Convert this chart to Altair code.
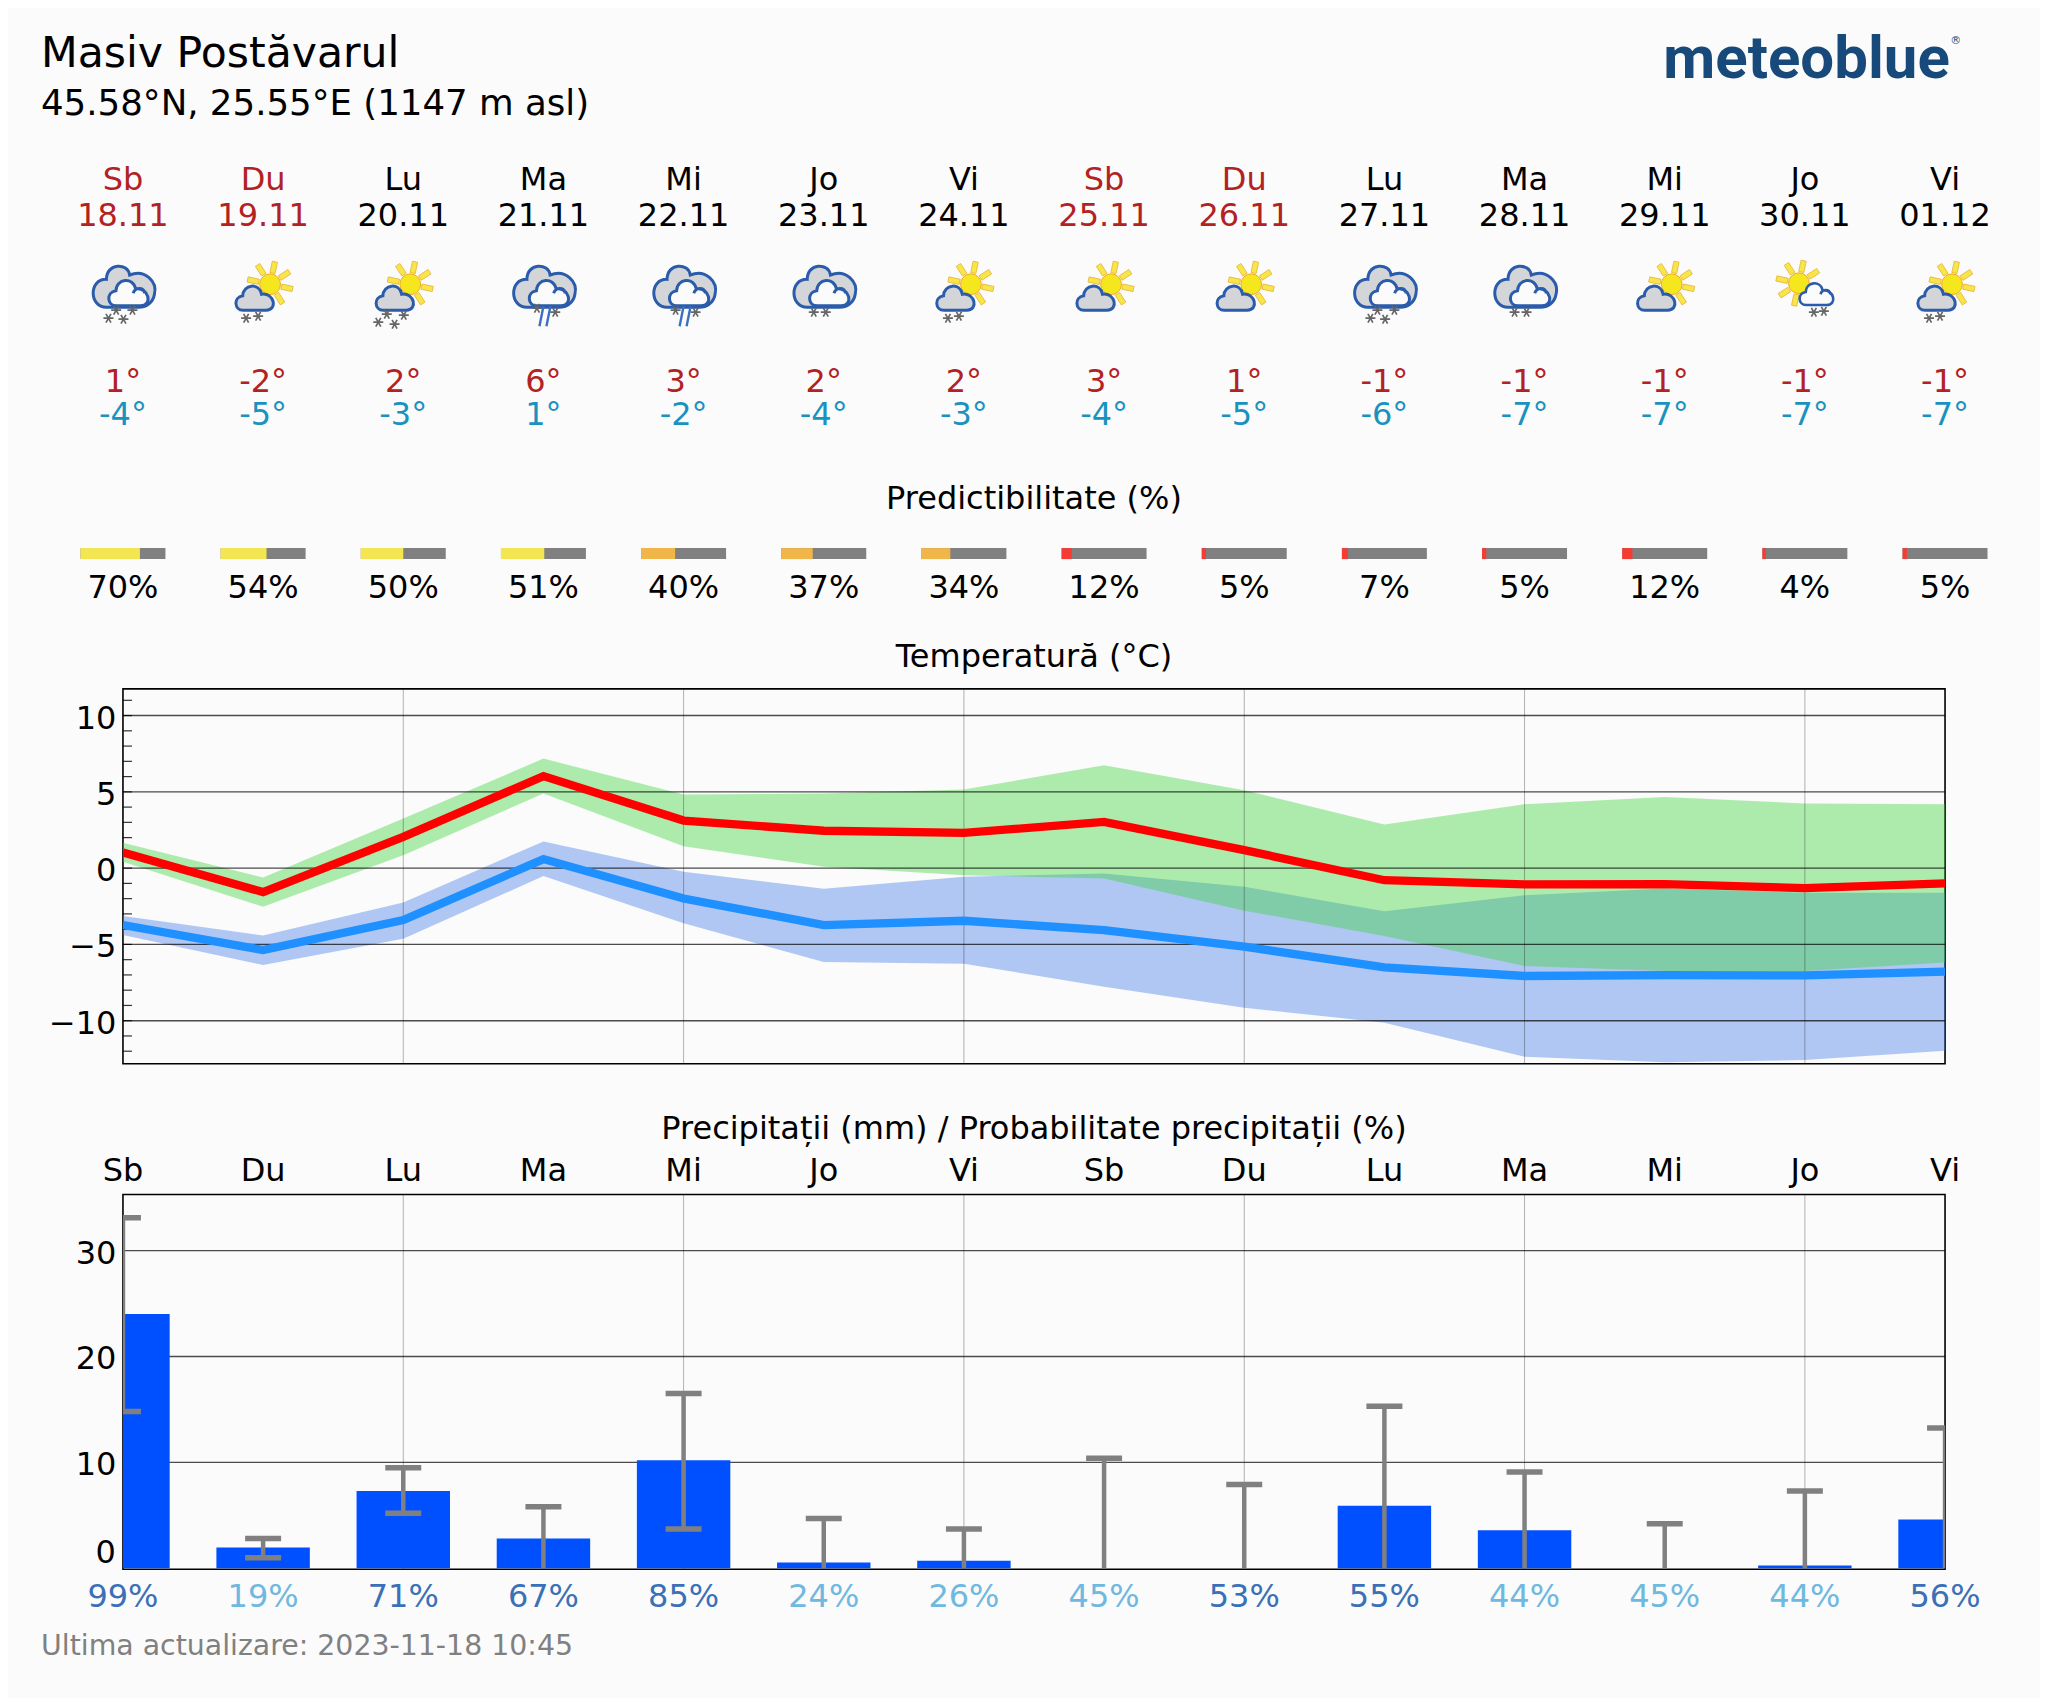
import altair as alt
import pandas as pd
import math

FONT = "DejaVu Sans"
BG = "#fbfbfb"

days = list(range(14))
weekday = ["Sb", "Du", "Lu", "Ma", "Mi", "Jo", "Vi", "Sb", "Du", "Lu", "Ma", "Mi", "Jo", "Vi"]
dates = ["18.11", "19.11", "20.11", "21.11", "22.11", "23.11", "24.11", "25.11", "26.11", "27.11", "28.11", "29.11", "30.11", "01.12"]
weekend = [True, True, False, False, False, False, False, True, True, False, False, False, False, False]
tmax_lbl = ["1°", "-2°", "2°", "6°", "3°", "2°", "2°", "3°", "1°", "-1°", "-1°", "-1°", "-1°", "-1°"]
tmin_lbl = ["-4°", "-5°", "-3°", "1°", "-2°", "-4°", "-3°", "-4°", "-5°", "-6°", "-7°", "-7°", "-7°", "-7°"]
predict = [70, 54, 50, 51, 40, 37, 34, 12, 5, 7, 5, 12, 4, 5]

tmax = [1.03, -1.57, 2.05, 6.03, 3.12, 2.45, 2.31, 3.03, 1.18, -0.79, -1.07, -1.05, -1.31, -1.0]
tmax_hi = [1.66, -0.61, 3.25, 7.18, 4.83, 4.89, 5.15, 6.75, 5.11, 2.86, 4.19, 4.67, 4.24, 4.19]
tmax_lo = [0.41, -2.53, 0.85, 4.89, 1.44, 0.09, -0.46, -0.68, -2.79, -4.45, -6.42, -6.75, -6.75, -6.18]
tmin = [-3.73, -5.37, -3.41, 0.59, -1.99, -3.73, -3.45, -4.06, -5.15, -6.51, -7.07, -7.01, -7.03, -6.79]
tmin_hi = [-3.14, -4.41, -2.25, 1.75, -0.24, -1.35, -0.57, -0.35, -1.22, -2.82, -1.77, -1.33, -1.62, -1.62]
tmin_lo = [-4.39, -6.35, -4.63, -0.52, -3.62, -6.16, -6.27, -7.77, -9.15, -10.13, -12.36, -12.73, -12.58, -11.97]

precip = [24.0, 1.95, 7.3, 2.8, 10.2, 0.55, 0.7, 0, 0, 5.9, 3.6, 0, 0.25, 4.6]
precip_hi = [33.1, 2.8, 9.5, 5.8, 16.5, 4.7, 3.7, 10.4, 7.9, 15.3, 9.1, 4.2, 7.3, 13.25]
precip_lo = [14.8, 1.0, 5.2, 0, 3.7, 0, 0, 0, 0, 0, 0, 0, 0, 0]
precip_prob = [99, 19, 71, 67, 85, 24, 26, 45, 53, 55, 44, 45, 44, 56]

temp_ticks = [-10, -5, 0, 5, 10]
temp_minor = list(range(-12, 12))
precip_ticks = [0, 10, 20, 30]
v_grid = [2, 4, 6, 8, 10, 12]

# icon composition per day
overcast_days = [0, 3, 4, 5, 9, 10]
sun_gray_days = [1, 2, 6, 7, 8, 11, 13]
sun_white_days = [12]
snow = {0: [(-6.8, 302), (9.5, 302), (-14.5, 310), (0.5, 311)],
        1: [(-17, 310), (-5, 308)],
        2: [(-16.5, 306), (0.5, 307), (-25, 314), (-8.7, 316)],
        3: [(-6.5, 300), (11.8, 304)],
        4: [(-8, 302), (12, 304)],
        5: [(-10, 304), (2, 304)],
        6: [(-16, 310), (-5, 308)],
        9: [(-7, 302), (10, 302), (-14, 310), (0.7, 311)],
        10: [(-10, 304), (2, 304)],
        12: [(9, 304), (19, 303)],
        13: [(-16, 310), (-5, 308)]}
rain_days = [3, 4]

W = 1822.8
PX_PER_DAY = W / 13
XS = alt.Scale(domain=[0, 13], nice=False, zero=False)
X = alt.X("d:Q", scale=XS, axis=None)

HEAD_H = 549.9
SPACING = 130.8
PANEL_H = 375
FS = 32


def text(df, field, y, size=FS, color=None, **kw):
    enc = dict(x=X, y=alt.value(y), text=alt.Text(f"{field}:N"))
    if color is None:
        mark = alt.Chart(df).mark_text(font=FONT, fontSize=size, baseline="alphabetic", align="center", color="#000", **kw)
    else:
        enc["color"] = alt.Color(f"{color}:N", scale=None, legend=None)
        mark = alt.Chart(df).mark_text(font=FONT, fontSize=size, baseline="alphabetic", align="center", **kw)
    return mark.encode(**enc)


def free_text(s, x, y, size, color="#000", align="left", weight="normal", font=FONT):
    return alt.Chart(pd.DataFrame({"t": [s]})).mark_text(
        font=font, fontSize=size, baseline="alphabetic", align=align, color=color, fontWeight=weight
    ).encode(x=alt.value(x), y=alt.value(y), text="t:N")


base = pd.DataFrame({
    "d": days, "wd": weekday, "date": dates,
    "dc": ["#b22222" if w else "#000000" for w in weekend],
    "hi": tmax_lbl, "lo": tmin_lbl,
    "plbl": [f"{p}%" for p in predict],
    "rlbl": [f"{p}%" for p in precip_prob],
    "rc": ["#3a70b8" if p >= 50 else "#6fb8e0" for p in precip_prob],
    "tc_hi": ["#b22222"] * 14, "tc_lo": ["#1a92c0"] * 14,
})

# ---------- glyphs
CLOUD_BACK = "M -0.55 0.62 C -1.12 0.62 -1.12 -0.3 -0.55 -0.28 C -0.55 -0.82 0.15 -0.82 0.2 -0.42 C 0.7 -0.62 1.1 -0.2 1 0.2 C 0.95 0.5 0.7 0.62 0.5 0.62 Z"
CLOUD_SMALL = "M -0.6 0.6 C -1.05 0.6 -1.1 -0.05 -0.62 -0.12 C -0.6 -0.7 0.2 -0.8 0.32 -0.2 C 0.95 -0.3 1.15 0.6 0.55 0.6 Z"
CURL = " M 0.2 0 C 0.3 -0.3 0.7 -0.3 0.75 0"
RAYS = ""
for k in range(8):
    a = math.radians(-12 + 45 * k)
    c, s = math.cos(a), -math.sin(a)
    px, py = -s, c
    r1, r2, hw = 0.5, 1.0, 0.115
    pts = [(r1 * c + hw * px, r1 * s + hw * py), (r2 * c + hw * px, r2 * s + hw * py),
           (r2 * c - hw * px, r2 * s - hw * py), (r1 * c - hw * px, r1 * s - hw * py)]
    RAYS += "M " + " L ".join(f"{x:.3f} {y:.3f}" for x, y in pts) + " Z "
STAR = "M -1 0 L 1 0 M -0.5 -0.87 L 0.5 0.87 M -0.5 0.87 L 0.5 -0.87"
RAIN = "M 0.1 -1 L -0.3 1 M 0.8 -1 L 0.4 1"
LINE_BLUE = "#2a5cab"


def glyph(day_list, dx, py, path, width, **kw):
    df = pd.DataFrame({"d": [d + dx / PX_PER_DAY for d in day_list], "py": [py] * len(day_list)})
    return alt.Chart(df).mark_point(shape=path, size=width * width, opacity=1, **kw).encode(
        x=X, y=alt.Y("py:Q", scale=None))


icons = []
icons.append(glyph(overcast_days, 0.5, 279.8, CLOUD_BACK, 62, filled=True, fill="#d3d5d8", stroke=LINE_BLUE, strokeWidth=3))
icons.append(glyph(overcast_days, 6, 285, CLOUD_SMALL + CURL, 42, filled=True, fill="#fbfbfb", stroke=LINE_BLUE, strokeWidth=3))
sun_list = [(sun_gray_days, 7, 276), (sun_white_days, -6, 275)]
for dl, dx, py in sun_list:
    icons.append(glyph(dl, dx, py, RAYS, 46, filled=True, fill="#f7e64a", stroke="#e8b030", strokeWidth=0.8))
    icons.append(alt.Chart(pd.DataFrame({"d": [d + dx / PX_PER_DAY for d in dl], "py": [py] * len(dl)}))
                 .mark_point(shape="circle", size=430, filled=True, fill="#f4e71e", stroke="#f5a623", strokeWidth=1, opacity=1)
                 .encode(x=X, y=alt.Y("py:Q", scale=None)))
icons.append(glyph(sun_gray_days, -8, 290, CLOUD_SMALL, 40, filled=True, fill="#d3d5d8", stroke=LINE_BLUE, strokeWidth=3))
icons.append(glyph(sun_white_days, 12, 286, CLOUD_SMALL + CURL, 36, filled=True, fill="#fbfbfb", stroke=LINE_BLUE, strokeWidth=2.6))
star_rows = [{"d": d + dx / PX_PER_DAY, "py": y} for d, pts in snow.items() for dx, y in pts]
icons.append(alt.Chart(pd.DataFrame(star_rows)).mark_point(shape=STAR, size=100, filled=False, stroke="#666666", strokeWidth=1.7, opacity=1)
             .encode(x=X, y=alt.Y("py:Q", scale=None)))
icons.append(glyph(rain_days, -1, 308, RAIN, 20, filled=False, stroke="#3b6fc0", strokeWidth=2.4))

# ---------- predictability bars
BAR_W = 85 / PX_PER_DAY
pred = pd.DataFrame({"d": days, "p": predict})
pred["x0"] = pred.d - BAR_W / 2
pred["x1"] = pred.d + BAR_W / 2
pred["xm"] = pred.x0 + BAR_W * pred.p / 100
pred["c"] = ["#f4e552" if p >= 50 else "#f0b64a" if p >= 30 else "#f53c34" for p in predict]
pred_gray = alt.Chart(pred).mark_rect(color="#808080").encode(
    x=alt.X("x0:Q", scale=XS, axis=None), x2="x1:Q", y=alt.value(540), y2=alt.value(551))
pred_col = alt.Chart(pred).mark_rect().encode(
    x=alt.X("x0:Q", scale=XS, axis=None), x2="xm:Q", y=alt.value(540), y2=alt.value(551),
    color=alt.Color("c:N", scale=None, legend=None))

bg = alt.Chart(pd.DataFrame({"a": [0]})).mark_rect(color=BG).encode(
    x=alt.value(-115), x2=alt.value(1917), y=alt.value(0), y2=alt.value(1690))

header = alt.layer(
    bg,
    free_text("Masiv Postăvarul", -82, 59, 42.6),
    free_text("45.58°N, 25.55°E (1147 m asl)", -82, 107, 35.6),
    free_text("meteoblue", 1541, 70, 60, color="#17497a", weight="bold", font="Roboto"),
    free_text("®", 1828, 36, 11, color="#17497a"),
    text(base, "wd", 182, color="dc"),
    text(base, "date", 218, color="dc"),
    *icons,
    text(base, "hi", 383.5, color="tc_hi"),
    text(base, "lo", 417, color="tc_lo"),
    free_text("Predictibilitate (%)", W / 2, 501, FS, align="center"),
    pred_gray, pred_col,
    text(base, "plbl", 590),
    free_text("Temperatură (°C)", W / 2, 658.7, FS, align="center"),
).properties(width=W, height=HEAD_H, view=alt.ViewConfig(stroke=None))

# ---------- temperature
YT = alt.Scale(domain=[-12.82, 11.75], nice=False, zero=False)
temp_df = pd.DataFrame({"d": days, "tmax": tmax, "tmax_hi": tmax_hi, "tmax_lo": tmax_lo,
                        "tmin": tmin, "tmin_hi": tmin_hi, "tmin_lo": tmin_lo})
y_axis_t = alt.Axis(values=temp_ticks, grid=False, ticks=False, domain=False, title=None,
                    labelFont=FONT, labelFontSize=FS, labelColor="#000", labelPadding=7, labelFlush=False,
                    labelOffset=2.5)

grid_h = alt.Chart(pd.DataFrame({"v": temp_ticks})).mark_rule(color="#000", opacity=0.7, strokeWidth=1.4).encode(
    y=alt.Y("v:Q", scale=YT, axis=y_axis_t))
grid_v = alt.Chart(pd.DataFrame({"d": v_grid})).mark_rule(color="#000", opacity=0.3, strokeWidth=1).encode(x=X)
minor = alt.Chart(pd.DataFrame({"v": temp_minor})).mark_rule(color="#000", opacity=0.8, strokeWidth=1.2).encode(
    y=alt.Y("v:Q", scale=YT), x=alt.value(0), x2=alt.value(9))


def band(lo, hi, col):
    return alt.Chart(temp_df).mark_area(color=col, opacity=0.4, clip=True, interpolate="linear").encode(
        x=X, y=alt.Y(f"{lo}:Q", scale=YT), y2=f"{hi}:Q")


def tline(f, col):
    return alt.Chart(temp_df).mark_line(color=col, strokeWidth=8.3, strokeJoin="miter", strokeCap="butt", clip=True).encode(
        x=X, y=alt.Y(f"{f}:Q", scale=YT))


temp = alt.layer(
    band("tmin_lo", "tmin_hi", "#407be9"),
    band("tmax_lo", "tmax_hi", "#3ad53a"),
    grid_h, grid_v, minor,
    tline("tmin", "#1e90ff"),
    tline("tmax", "#ff0000"),
).properties(width=W, height=PANEL_H)

# ---------- precipitation
YP = alt.Scale(domain=[-0.1, 35.3], nice=False, zero=False)
rain_df = pd.DataFrame({"d": days, "v": precip, "hi": precip_hi, "lo": precip_lo})
rain_df["x0"] = rain_df.d - 1 / 3
rain_df["x1"] = rain_df.d + 1 / 3
rain_df["zero"] = 0.0
y_axis_p = alt.Axis(values=[10, 20, 30], grid=False, ticks=False, domain=False, title=None,
                    labelFont=FONT, labelFontSize=FS, labelColor="#000", labelPadding=7, labelOffset=2.5)

p_grid_h = alt.Chart(pd.DataFrame({"v": precip_ticks[1:]})).mark_rule(color="#000", opacity=0.7, strokeWidth=1.4).encode(
    y=alt.Y("v:Q", scale=YP, axis=y_axis_p))
bars = alt.Chart(rain_df[rain_df.v > 0]).mark_rect(color="#0050ff", clip=True).encode(
    x=alt.X("x0:Q", scale=XS, axis=None), x2="x1:Q", y=alt.Y("zero:Q", scale=YP), y2="v:Q")
err = alt.Chart(rain_df).mark_rule(color="#808080", strokeWidth=4.5, clip=True).encode(
    x=X, y=alt.Y("lo:Q", scale=YP), y2="hi:Q")
cap_hi = alt.Chart(rain_df).mark_tick(color="#808080", size=36, thickness=5.5, orient="horizontal", clip=True, opacity=1).encode(
    x=X, y=alt.Y("hi:Q", scale=YP))
cap_lo = alt.Chart(rain_df[rain_df.lo > 0]).mark_tick(color="#808080", size=36, thickness=5.5, orient="horizontal", clip=True, opacity=1).encode(
    x=X, y=alt.Y("lo:Q", scale=YP))

precip_panel = alt.layer(
    p_grid_h, grid_v, bars, err, cap_hi, cap_lo,
    free_text("0", -7, 369, FS, align="right"),
    free_text("Precipitații (mm) / Probabilitate precipitații (%)", W / 2, -55.5, FS, align="center"),
    text(base, "wd", -13),
    text(base, "rlbl", 412.5, color="rc"),
    free_text("Ultima actualizare: 2023-11-18 10:45", -82, 460.5, 28.4, color="#808080"),
).properties(width=W, height=PANEL_H)

chart = alt.vconcat(header, temp, precip_panel, spacing=SPACING, bounds="flush").properties(
    padding=0, background=BG
).configure_view(stroke="#000", strokeWidth=1.6).resolve_scale(y="independent", x="independent")

chart.save("out.html", embed_options={"renderer": "svg", "actions": False})
